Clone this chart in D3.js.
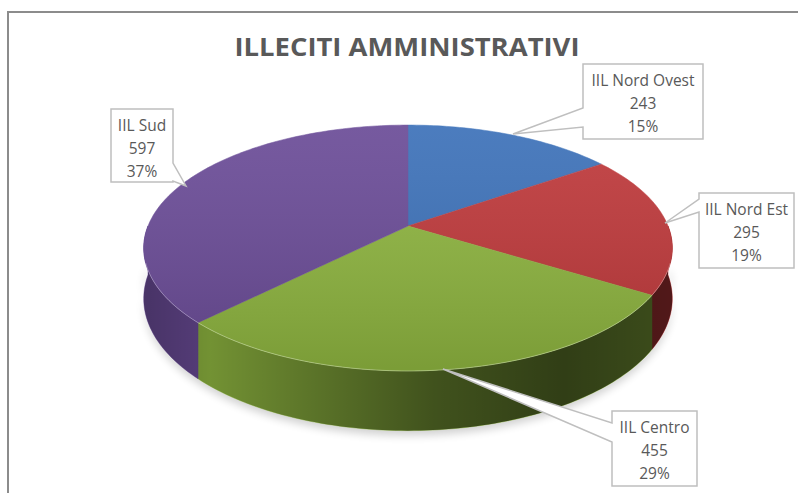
<!DOCTYPE html>
<html>
<head>
<meta charset="utf-8">
<script src="https://cdn.jsdelivr.net/npm/d3@7/dist/d3.min.js"></script>
<style>
  body { margin: 0; background: #fff; }
  svg { display: block; }
  text { font-family: "Open Sans", "DejaVu Sans", sans-serif; fill: #595959; }
</style>
</head>
<body>
<script>
// data
const regions = ["IIL Nord Ovest", "IIL Nord Est", "IIL Centro", "IIL Sud"];
const counts = [243, 295, 455, 597];
const pctLabels = ["15%", "19%", "29%", "37%"];
const colors = ["#3d72ba", "#c0393b", "#8fb640", "#6b4c98"];

// callout boxes (x0, y0, x1, y1), pointer side, pointer base and tip
const callouts = [
  {box: [583, 64, 703, 139], side: "left", base: [108, 127], tip: [513, 134]},
  {box: [699, 193, 794, 268], side: "left", base: [199, 212], tip: [665, 223]},
  {box: [612, 411, 697, 486], side: "left", base: [423, 442], tip: [443, 369]},
  {box: [111, 109, 173, 182], side: "right", base: [163, 181], tip: [186, 186]}
];

const W = 798, H = 493;
// pie projection: centre, radii, perspective, thickness
const CX = 408, CY = 226, RX = 260, RY = 119, P = 0.179, DEPTH = 49;

const svg = d3.select("body").append("svg")
    .attr("width", W)
    .attr("height", H);

const defs = svg.append("defs");

// chart frame
svg.append("rect")
    .attr("x", 8).attr("y", 12)
    .attr("width", W).attr("height", H)
    .attr("fill", "none")
    .attr("stroke", "#8c8c8c")
    .attr("stroke-width", 2);

svg.append("text")
    .attr("x", 407).attr("y", 56)
    .attr("text-anchor", "middle")
    .attr("font-size", 25)
    .attr("font-weight", "bold")
    .attr("textLength", 345)
    .attr("lengthAdjust", "spacingAndGlyphs")
    .text("ILLECITI AMMINISTRATIVI");

// project an angle on the pie rim (0 = top, clockwise)
function proj(a, drop) {
    const u = Math.sin(a), v = -Math.cos(a);
    const s = 1 / (1 - P * v);
    return [CX + RX * u * s, CY + RY * v * s + drop * s];
}
function arcPts(a0, a1, drop) {
    const n = Math.max(2, Math.ceil(Math.abs(a1 - a0) / 0.02));
    return d3.range(n + 1).map(i => proj(a0 + (a1 - a0) * i / n, drop));
}
const line = d3.line();

const arcs = d3.pie().sort(null).value(d => d)(counts);

// gradients
const shade = defs.append("linearGradient")
    .attr("id", "sideShade")
    .attr("gradientUnits", "userSpaceOnUse")
    .attr("x1", CX - RX).attr("x2", CX + RX).attr("y1", 0).attr("y2", 0);
[[0, 0.32], [0.12, 0.2], [0.3, 0.35], [0.55, 0.55], [0.8, 0.66], [1, 0.58]].forEach(s =>
    shade.append("stop").attr("offset", s[0]).attr("stop-color", "#000").attr("stop-opacity", s[1]));

const topShade = defs.append("linearGradient")
    .attr("id", "topShade")
    .attr("gradientUnits", "userSpaceOnUse")
    .attr("x1", 0).attr("x2", 0).attr("y1", CY - RY).attr("y2", CY + RY * 1.2);
topShade.append("stop").attr("offset", 0).attr("stop-color", "#fff").attr("stop-opacity", 0.08);
topShade.append("stop").attr("offset", 1).attr("stop-color", "#000").attr("stop-opacity", 0.14);

const blur = defs.append("filter").attr("id", "blur")
    .attr("x", "-20%").attr("y", "-20%").attr("width", "140%").attr("height", "140%");
blur.append("feGaussianBlur").attr("stdDeviation", 4);

// soft shadow under the pie
const front0 = Math.PI / 2, front1 = Math.PI * 3 / 2;
svg.append("path")
    .attr("d", line(arcPts(front0, front1, DEPTH + 4).concat(arcPts(front1, front0, DEPTH - 8))) + "Z")
    .attr("fill", "#000")
    .attr("opacity", 0.18)
    .attr("filter", "url(#blur)");

// side walls
const sides = svg.append("g");
arcs.forEach((d, i) => {
    const a0 = Math.max(d.startAngle, front0), a1 = Math.min(d.endAngle, front1);
    if (a1 <= a0) return;
    const pts = arcPts(a0, a1, 0).concat(arcPts(a1, a0, DEPTH));
    sides.append("path")
        .attr("d", line(pts) + "Z")
        .attr("fill", colors[i])
        .attr("stroke", colors[i])
        .attr("stroke-width", 0.5);
});
sides.append("path")
    .attr("d", line(arcPts(front0, front1, 0).concat(arcPts(front1, front0, DEPTH))) + "Z")
    .attr("fill", "url(#sideShade)");

// top faces
const tops = svg.append("g");
arcs.forEach((d, i) => {
    const pts = [[CX, CY]].concat(arcPts(d.startAngle, d.endAngle, 0));
    tops.append("path")
        .attr("d", line(pts) + "Z")
        .attr("fill", colors[i])
        .attr("stroke", colors[i])
        .attr("stroke-width", 0.5);
});
tops.append("path")
    .attr("d", line(arcPts(0, Math.PI * 2, 0)) + "Z")
    .attr("fill", "url(#topShade)");
// light rim along the front edge
tops.append("path")
    .attr("d", line(arcPts(front0 + 0.3, front1 - 0.3, 0)))
    .attr("fill", "none")
    .attr("stroke", "#fff")
    .attr("stroke-opacity", 0.3)
    .attr("stroke-width", 1);

// callout labels
const labels = svg.append("g");
callouts.forEach((c, i) => {
    const [x0, y0, x1, y1] = c.box;
    const [b1, b2] = c.base;
    let d;
    if (c.side === "left") {
        d = `M${x0},${y0}L${x1},${y0}L${x1},${y1}L${x0},${y1}L${x0},${b2}L${c.tip[0]},${c.tip[1]}L${x0},${b1}Z`;
    } else {
        d = `M${x0},${y0}L${x1},${y0}L${x1},${b1}L${c.tip[0]},${c.tip[1]}L${x1},${b2}L${x1},${y1}L${x0},${y1}Z`;
    }
    labels.append("path")
        .attr("d", d)
        .attr("fill", "#fff")
        .attr("stroke", "#bfbfbf")
        .attr("stroke-width", 1.5)
        .attr("stroke-linejoin", "miter");
    const tx = (x0 + x1) / 2;
    [regions[i], String(counts[i]), pctLabels[i]].forEach((t, k) => {
        labels.append("text")
            .attr("x", tx)
            .attr("y", y0 + 22 + k * 23)
            .attr("text-anchor", "middle")
            .attr("font-size", 15.5)
            .text(t);
    });
});
</script>
</body>
</html>
